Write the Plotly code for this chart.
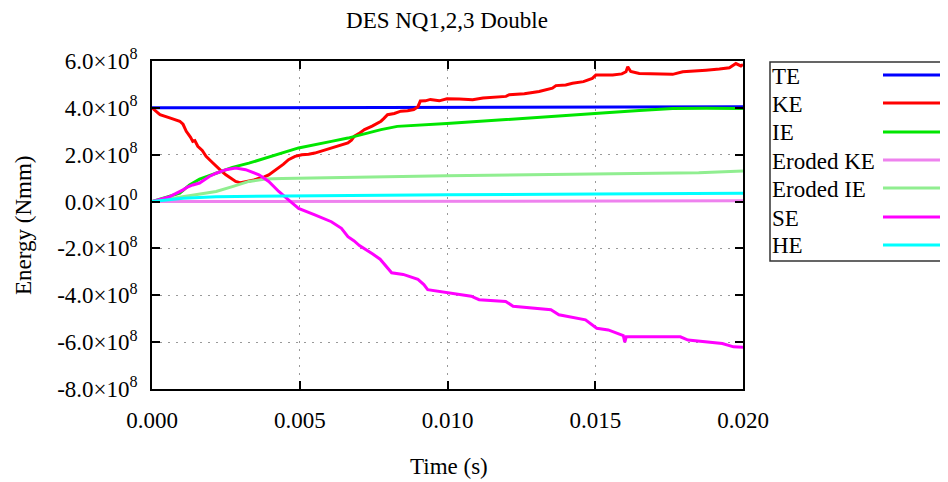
import numpy as np
import plotly.graph_objects as go

# ---------------- data (energies in units of 1e8 N·mm, time in ms) ----------------
t_te = [0.0, 5.0, 10.0, 15.0, 20.0]
te = [4.00, 4.01, 4.02, 4.03, 4.05]

t_ke = [0.0, 0.27, 0.6, 0.94, 1.05, 1.16, 1.3, 1.38, 1.45, 1.55, 1.7, 1.83, 2.0, 2.17, 2.35, 2.5,
        2.7, 2.83, 3.0, 3.28, 3.45, 3.62, 3.8, 3.95, 4.1, 4.29, 4.45, 4.62, 4.84, 5.07, 5.3,
        5.51, 5.8, 6.07, 6.3, 6.63, 6.75, 6.85, 7.0, 7.19, 7.45, 7.75, 7.85, 7.97, 8.2, 8.42,
        8.65, 8.86, 9.0, 9.08, 9.25, 9.42, 9.72, 9.98, 10.4, 10.85, 11.2, 11.5, 11.98, 12.09,
        12.6, 13.1, 13.55, 13.67, 14.0, 14.23, 14.6, 14.9, 15.02, 15.3, 15.59, 15.9, 16.04,
        16.1, 16.2, 16.49, 17.0, 17.62, 17.96, 18.3, 18.75, 19.2, 19.54, 19.76, 19.93, 20.0]
ke = [4.00, 3.71, 3.57, 3.43, 3.30, 3.00, 2.75, 2.57, 2.60, 2.36, 2.18, 1.93, 1.72, 1.50, 1.30, 1.14,
      0.95, 0.86, 0.80, 0.86, 0.92, 1.00, 1.05, 1.14, 1.28, 1.43, 1.60, 1.79, 1.93, 2.00, 2.02,
      2.07, 2.18, 2.29, 2.36, 2.50, 2.62, 2.79, 2.90, 3.07, 3.22, 3.43, 3.55, 3.71, 3.76, 3.86,
      3.88, 3.93, 4.05, 4.29, 4.30, 4.36, 4.30, 4.39, 4.38, 4.35, 4.42, 4.44, 4.49, 4.56,
      4.60, 4.70, 4.84, 4.95, 4.98, 5.05, 5.12, 5.26, 5.40, 5.40, 5.40, 5.45, 5.54,
      5.75, 5.55, 5.47, 5.45, 5.43, 5.54, 5.56, 5.61, 5.66, 5.71, 5.89, 5.79, 5.85]

t_ie = [0.0, 0.6, 0.94, 1.27, 1.61, 2.17, 2.72, 3.28, 4.4, 4.96, 6.07, 6.63, 7.75, 8.3, 9.98,
        10.85, 11.98, 13.1, 14.23, 15.36, 16.49, 17.05, 17.62, 18.75, 20.0]
ie = [0.0, 0.21, 0.36, 0.71, 0.96, 1.21, 1.46, 1.64, 2.07, 2.29, 2.57, 2.71, 3.07, 3.21, 3.33,
      3.40, 3.51, 3.61, 3.69, 3.79, 3.89, 3.94, 3.97, 3.98, 3.97]

t_eke = [0.0, 5.0, 10.0, 15.0, 20.0]
eke = [0.0, 0.01, 0.02, 0.03, 0.03]

t_eie = [0.0, 1.05, 2.17, 2.72, 3.28, 3.84, 4.4, 9.98, 15.4, 18.5, 20.0]
eie = [0.0, 0.21, 0.43, 0.64, 0.86, 0.96, 0.98, 1.10, 1.20, 1.23, 1.31]

t_se = [0.0, 0.6, 1.05, 1.2, 1.38, 1.61, 1.94, 2.17, 2.5, 2.83, 3.17, 3.62, 3.95, 4.29, 4.62,
        4.96, 5.51, 6.07, 6.41, 6.63, 6.83, 7.02, 7.47, 7.72, 8.11, 8.5, 9.0, 9.2, 9.33, 10.04,
        10.8, 11.07, 11.97, 12.22, 13.5, 13.77, 14.67, 15.05, 15.44, 15.95, 16.0, 16.05, 16.34,
        17.88, 18.14, 19.3, 19.68, 19.94, 20.0]
se = [0.0, 0.21, 0.50, 0.62, 0.71, 0.79, 1.07, 1.21, 1.36, 1.43, 1.36, 1.14, 0.86, 0.43, 0.07,
      -0.29, -0.57, -0.86, -1.14, -1.50, -1.67, -1.88, -2.24, -2.46, -3.04, -3.11, -3.32, -3.54, -3.76, -3.90,
      -4.04, -4.19, -4.26, -4.47, -4.62, -4.83, -5.05, -5.41, -5.48, -5.72, -6.0, -5.77, -5.77,
      -5.77, -5.91, -6.06, -6.20, -6.20, -6.22]

t_he = [0.0, 1.05, 2.17, 4.4, 9.98, 15.0, 20.0]
he = [0.0, 0.14, 0.21, 0.24, 0.29, 0.32, 0.36]

series = [
    ("TE", t_te, te, "#0000ff"),
    ("KE", t_ke, ke, "#ff0000"),
    ("IE", t_ie, ie, "#00e600"),
    ("Eroded KE", t_eke, eke, "#ee82ee"),
    ("Eroded IE", t_eie, eie, "#90ee90"),
    ("SE", t_se, se, "#ff00ff"),
    ("HE", t_he, he, "#00ffff"),
]

y_tickvals = [6, 4, 2, 0, -2, -4, -6, -8]
y_ticktext = ["6.0×10<sup>8</sup>", "4.0×10<sup>8</sup>", "2.0×10<sup>8</sup>", "0.0×10<sup>0</sup>",
              "-2.0×10<sup>8</sup>", "-4.0×10<sup>8</sup>", "-6.0×10<sup>8</sup>", "-8.0×10<sup>8</sup>"]
x_tickvals = [0.0, 0.005, 0.010, 0.015, 0.020]
x_ticktext = ["0.000", "0.005", "0.010", "0.015", "0.020"]

# ---------------- figure ----------------
W, H = 948, 482
OFF = 8                      # page body margin
L, R, T, B = 152, 743, 61, 389  # plot area in screen pixels

FONT = "Liberation Serif, Times New Roman, serif"
FS = 23

fig = go.Figure()
for name, tx, vals, col in series:
    fig.add_trace(go.Scatter(
        x=np.array(tx) / 1000.0, y=np.array(vals) * 1e8, mode="lines", name=name,
        line=dict(color=col, width=3), showlegend=False))

def px_x(p):
    return (p - L) / (R - L)

def px_y(p):
    return (B - p) / (B - T)

shapes = []
annotations = []
# custom legend box (text left, sample right, as in reference)
shapes.append(dict(type="rect", xref="paper", yref="paper",
                   x0=px_x(770), x1=px_x(960), y0=px_y(261), y1=px_y(62),
                   line=dict(color="#333333", width=1.5), fillcolor="white", layer="below"))
row_y = [75, 103, 132, 160, 188, 217, 245]
for (name, tx, vals, col), ry in zip(series, row_y):
    shapes.append(dict(type="line", xref="paper", yref="paper",
                       x0=px_x(883), x1=px_x(943), y0=px_y(ry), y1=px_y(ry),
                       line=dict(color=col, width=3)))
    annotations.append(dict(text=name, xref="paper", yref="paper", x=px_x(770), y=px_y(ry + 1),
                            xanchor="left", yanchor="middle", showarrow=False,
                            font=dict(family=FONT, size=FS, color="black")))

# axis titles
annotations.append(dict(text="Time (s)", xref="paper", yref="paper", x=px_x(449), y=px_y(466),
                        xanchor="center", yanchor="middle", showarrow=False,
                        font=dict(family=FONT, size=FS, color="black")))
annotations.append(dict(text="Energy (Nmm)", xref="paper", yref="paper", x=px_x(23), y=px_y(226),
                        xanchor="center", yanchor="middle", showarrow=False, textangle=-90,
                        font=dict(family=FONT, size=FS, color="black")))

fig.update_layout(
    width=W, height=H,
    margin=dict(l=L - OFF, r=W - (R - OFF), t=T - OFF, b=H - (B - OFF), pad=0),
    paper_bgcolor="white", plot_bgcolor="white",
    font=dict(family=FONT, size=FS, color="black"),
    title=dict(text="DES NQ1,2,3 Double", x=(447 - OFF) / W, xanchor="center",
               y=1 - (20 - OFF) / H, yanchor="middle", font=dict(family=FONT, size=FS, color="black")),
    shapes=shapes, annotations=annotations,
)
fig.update_xaxes(range=[0, 0.02], tickvals=x_tickvals, ticktext=x_ticktext,
                 showline=True, linecolor="black", linewidth=1.5, mirror="ticks",
                 ticks="inside", ticklen=8, tickwidth=1.5, tickcolor="black",
                 showgrid=True, gridcolor="#999999", gridwidth=1, griddash="2px,6px",
                 zeroline=False, ticklabelstandoff=10,
                 tickfont=dict(family=FONT, size=FS, color="black"))
fig.update_yaxes(range=[-8e8, 6e8], tickvals=[v * 1e8 for v in y_tickvals], ticktext=y_ticktext,
                 showline=True, linecolor="black", linewidth=1.5, mirror="ticks",
                 ticks="inside", ticklen=8, tickwidth=1.5, tickcolor="black",
                 showgrid=True, gridcolor="#999999", gridwidth=1, griddash="2px,6px",
                 zeroline=False, ticklabelstandoff=8,
                 tickfont=dict(family=FONT, size=FS, color="black"))

fig.write_html("out.html")
